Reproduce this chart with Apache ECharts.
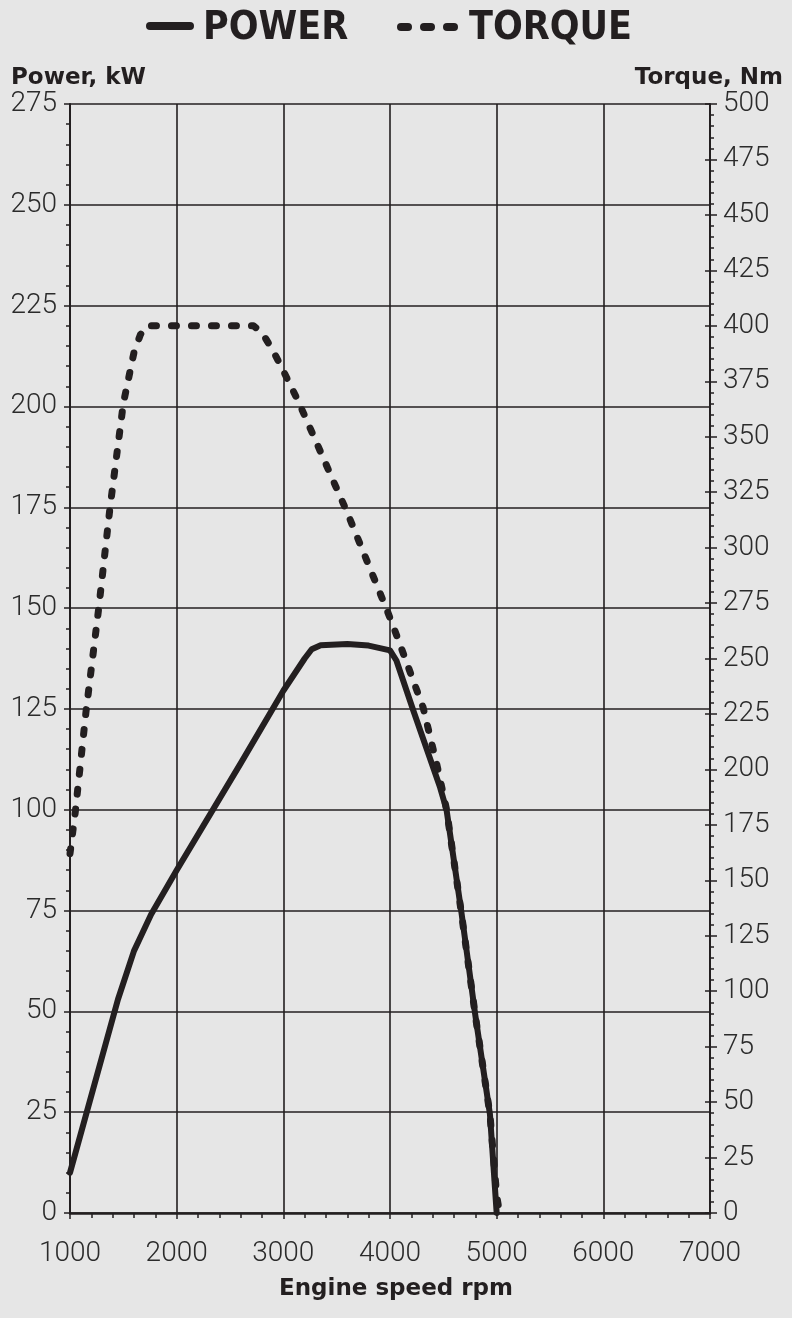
<!DOCTYPE html>
<html>
<head>
<meta charset="utf-8">
<script src="https://cdn.jsdelivr.net/npm/echarts@6/dist/echarts.min.js"></script>
<style>
html,body{margin:0;padding:0;background:#e6e6e6;}
#c{width:792px;height:1318px;}
</style>
</head>
<body>
<div id="c"></div>
<script>
// ---- data ----
const powerRpm = [1000,1450,1600,1680,1760,2000,2600,3000,3200,3266,3350,3600,3800,4000,4060,4220,4470,4530,4670,4800,4937,5000];
const powerKw  = [10,  53,  65,  69.5,74,  85,  111.5,129.5,137.5,139.8,140.8,141.1,140.7,139.5,137,124.5,105.5,100,74.5,49,24.5,0];
const torqueRpm = [1000,1050,1150,1270,1375,1500,1600,1660,1720,2720,2800,2900,2970,3140,3600,3970,4050,4310,4440,4530,4670,4800,4937,5000,5020];
const torqueNm  = [162, 181, 226, 273, 318, 365, 388, 396, 400, 400, 397, 389, 382.6,366,315.7,272,262, 228, 202, 182, 135, 89,  44.5,8,   2];
const xTicks = [1000,2000,3000,4000,5000,6000,7000];
const powerTicks = [0,25,50,75,100,125,150,175,200,225,250,275];
const torqueTicks = [0,25,50,75,100,125,150,175,200,225,250,275,300,325,350,375,400,425,450,475,500];
const labels = {legendPower:'POWER', legendTorque:'TORQUE', yLeft:'Power, kW', yRight:'Torque, Nm', x:'Engine speed rpm'};

const INK = '#231f20';
const LABEL = '#2b2b2b';
const tickFont = {fontFamily:'Roboto', fontWeight:300, fontSize:28, color:LABEL};

const chart = echarts.init(document.getElementById('c'), null, {renderer:'canvas'});
const gridBox = {left:70, right:82, top:104, bottom:105};

const option = {
  backgroundColor:'#e6e6e6',
  animation:false,
  grid: Object.assign({containLabel:false}, gridBox),
  xAxis: {
    type:'value', min:xTicks[0], max:xTicks[xTicks.length-1], interval:1000,
    axisLine:{show:true, onZero:false, lineStyle:{color:INK, width:2.5}},
    axisTick:{show:true, inside:false, length:6, lineStyle:{color:INK, width:1.5}},
    minorTick:{show:true, splitNumber:5, length:5, lineStyle:{color:INK, width:1.5}},
    splitLine:{show:true, lineStyle:{color:INK, width:1.6}},
    axisLabel:Object.assign({margin:27, formatter:v=>String(v)}, tickFont)
  },
  yAxis: [
    {
      type:'value', position:'left', min:0, max:275, interval:25,
      axisLine:{show:true, onZero:false, lineStyle:{color:INK, width:2}},
      axisTick:{show:true, inside:false, length:6, lineStyle:{color:INK, width:1.5}},
      minorTick:{show:true, splitNumber:5, length:4, lineStyle:{color:INK, width:1.5}},
      splitLine:{show:true, lineStyle:{color:INK, width:1.6}},
      axisLabel:Object.assign({margin:13, formatter:v=>String(v)}, tickFont)
    },
    {
      type:'value', position:'right', min:0, max:500, interval:25,
      axisLine:{show:true, onZero:false, lineStyle:{color:INK, width:2}},
      axisTick:{show:true, inside:false, length:7, lineStyle:{color:INK, width:1.5}},
      minorTick:{show:true, splitNumber:5, length:4, lineStyle:{color:INK, width:1.5}},
      splitLine:{show:false},
      axisLabel:Object.assign({margin:13, formatter:v=>String(v)}, tickFont)
    },
    {
      type:'value', position:'right', min:0, max:500, interval:25,
      axisLine:{show:false},
      axisTick:{show:true, inside:true, length:5, lineStyle:{color:INK, width:1.5}},
      splitLine:{show:false},
      axisLabel:{show:false}
    }
  ],
  series: [
    {
      name:labels.legendPower, type:'line', yAxisIndex:0, showSymbol:false, smooth:false,
      data: powerRpm.map((r,i)=>[r, powerKw[i]]),
      lineStyle:{color:INK, width:6, cap:'round', join:'round'},
      z:5
    },
    {
      name:labels.legendTorque, type:'line', yAxisIndex:1, showSymbol:false, smooth:false,
      data: torqueRpm.map((r,i)=>[r, torqueNm[i]]),
      lineStyle:{color:INK, width:7, type:[5,15], cap:'round', join:'round'},
      z:6
    }
  ],
  graphic: [
    {type:'line', shape:{x1:150, y1:26, x2:190, y2:26}, style:{stroke:INK, lineWidth:8, lineCap:'round'}},
    {type:'text', left:203, top:9, style:{text:labels.legendPower, fontFamily:'DejaVu Sans Condensed', fontWeight:'bold', fontSize:39, fill:INK}},
    {type:'line', shape:{x1:401, y1:27, x2:408, y2:27}, style:{stroke:INK, lineWidth:8, lineCap:'round'}},
    {type:'line', shape:{x1:424, y1:27, x2:431, y2:27}, style:{stroke:INK, lineWidth:8, lineCap:'round'}},
    {type:'line', shape:{x1:447, y1:27, x2:454, y2:27}, style:{stroke:INK, lineWidth:8, lineCap:'round'}},
    {type:'text', left:469, top:9, style:{text:labels.legendTorque, fontFamily:'DejaVu Sans Condensed', fontWeight:'bold', fontSize:39, fill:INK}},
    {type:'text', left:11, top:67, style:{text:labels.yLeft, fontFamily:'DejaVu Sans', fontWeight:'bold', fontSize:23, fill:INK}},
    {type:'text', right:9, top:67, style:{text:labels.yRight, fontFamily:'DejaVu Sans', fontWeight:'bold', fontSize:23, fill:INK}},
    {type:'text', left:'center', top:1278, style:{text:labels.x, fontFamily:'DejaVu Sans', fontWeight:'bold', fontSize:23, fill:INK}}
  ]
};
chart.setOption(option);
</script>
</body>
</html>
